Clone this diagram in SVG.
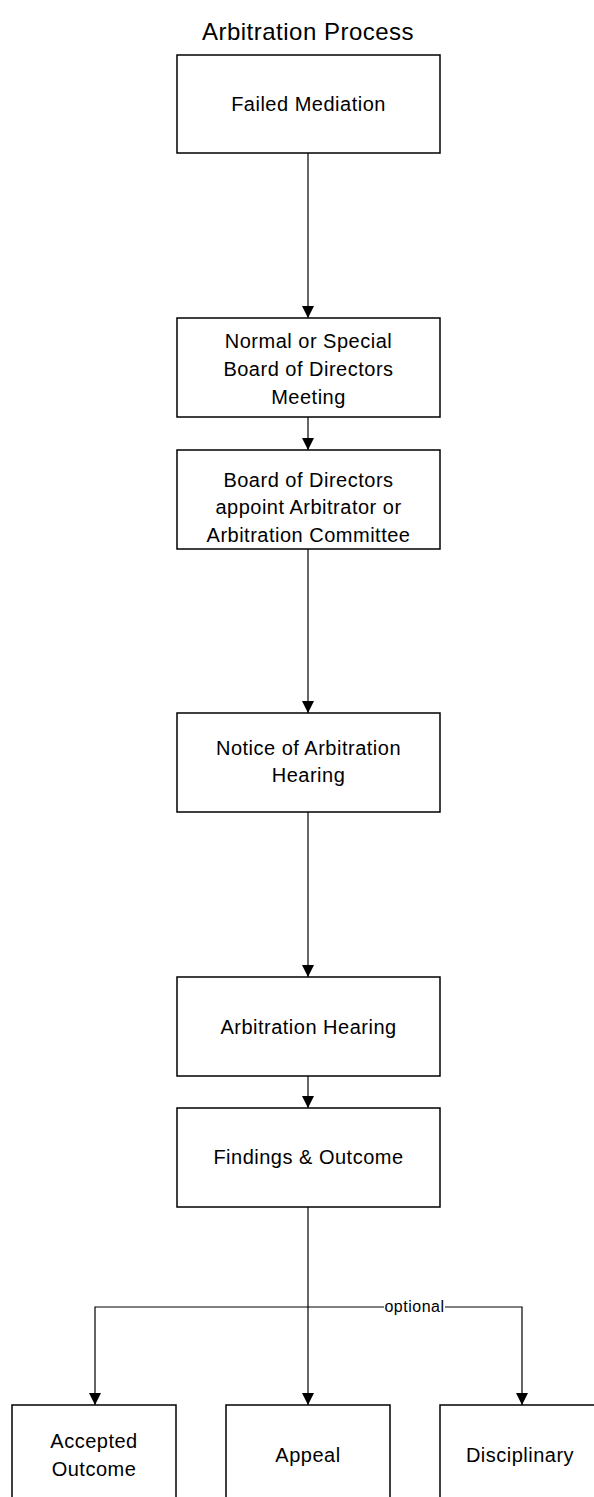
<svg xmlns="http://www.w3.org/2000/svg" width="594" height="1497" viewBox="0 0 594 1497">
<style>
.box{fill:#fff;stroke:#000;stroke-width:1.5}
.t{font-family:"Liberation Sans",Arial,sans-serif;font-size:20px;letter-spacing:0.5px;fill:#000;text-anchor:middle}
.title{font-family:"Liberation Sans",Arial,sans-serif;font-size:24px;letter-spacing:0.5px;fill:#000;text-anchor:middle}
.c{fill:none;stroke:#000;stroke-width:1.2}
.lbl{font-family:"Liberation Sans",Arial,sans-serif;font-size:16px;letter-spacing:0.5px;fill:#000;text-anchor:middle}
</style>
<defs>
<marker id="ah" viewBox="0 0 12 12" refX="12" refY="6" markerWidth="12" markerHeight="12" markerUnits="userSpaceOnUse" orient="auto">
<path d="M0,0 L12,6 L0,12 Z" fill="#000"/>
</marker>
</defs>
<rect width="594" height="1497" fill="#fff"/>
<text class="title" x="308" y="40">Arbitration Process</text>
<g id="connectors">
<line class="c" x1="308" y1="153" x2="308" y2="318" marker-end="url(#ah)"/>
<line class="c" x1="308" y1="417" x2="308" y2="450" marker-end="url(#ah)"/>
<line class="c" x1="308" y1="549" x2="308" y2="713" marker-end="url(#ah)"/>
<line class="c" x1="308" y1="812" x2="308" y2="977" marker-end="url(#ah)"/>
<line class="c" x1="308" y1="1076" x2="308" y2="1108" marker-end="url(#ah)"/>
<line class="c" x1="308" y1="1207" x2="308" y2="1405" marker-end="url(#ah)"/>
<polyline class="c" points="308,1307 95,1307 95,1405" marker-end="url(#ah)"/>
<polyline class="c" points="308,1307 522,1307 522,1405" marker-end="url(#ah)"/>
<rect x="384" y="1298" width="61" height="17" fill="#fff"/>
<text class="lbl" x="414.5" y="1312">optional</text>
</g>
<g id="failed-mediation">
<rect class="box" x="177" y="55" width="263" height="98"/>
<text class="t" x="308.5" y="111">Failed Mediation</text>
</g>
<g id="board-meeting">
<rect class="box" x="177" y="318" width="263" height="99"/>
<text class="t" x="308.5" y="348">Normal or Special</text>
<text class="t" x="308.5" y="376">Board of Directors</text>
<text class="t" x="308.5" y="404">Meeting</text>
</g>
<g id="board-appoint">
<rect class="box" x="177" y="450" width="263" height="99"/>
<text class="t" x="308.5" y="487">Board of Directors</text>
<text class="t" x="308.5" y="514">appoint Arbitrator or</text>
<text class="t" x="308.5" y="542">Arbitration Committee</text>
</g>
<g id="notice">
<rect class="box" x="177" y="713" width="263" height="99"/>
<text class="t" x="308.5" y="755">Notice of Arbitration</text>
<text class="t" x="308.5" y="782">Hearing</text>
</g>
<g id="hearing">
<rect class="box" x="177" y="977" width="263" height="99"/>
<text class="t" x="308.5" y="1034">Arbitration Hearing</text>
</g>
<g id="findings">
<rect class="box" x="177" y="1108" width="263" height="99"/>
<text class="t" x="308.5" y="1164">Findings &amp; Outcome</text>
</g>
<g id="accepted">
<rect class="box" x="12" y="1405" width="164" height="110"/>
<text class="t" x="94" y="1448">Accepted</text>
<text class="t" x="94" y="1476">Outcome</text>
</g>
<g id="appeal">
<rect class="box" x="226" y="1405" width="164" height="110"/>
<text class="t" x="308" y="1462">Appeal</text>
</g>
<g id="disciplinary">
<rect class="box" x="440" y="1405" width="164" height="110"/>
<text class="t" x="520" y="1462">Disciplinary</text>
</g>
</svg>
